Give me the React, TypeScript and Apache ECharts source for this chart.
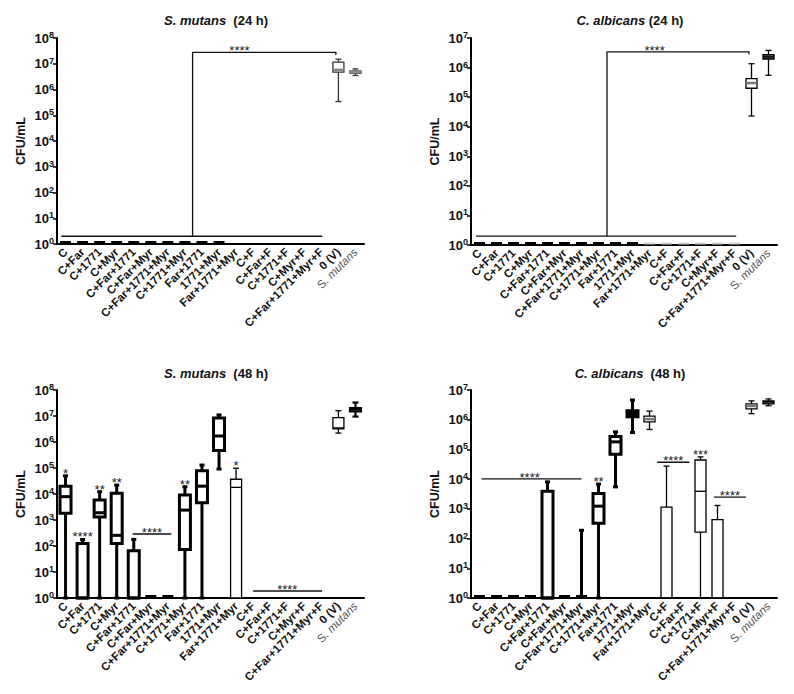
import React, { useEffect, useRef } from 'react';
import * as echarts from 'echarts';

const FONT = '"Liberation Sans", Arial, sans-serif';

const categories = [
  'C', 'C+Far', 'C+1771', 'C+Myr', 'C+Far+1771', 'C+Far+Myr', 'C+Far+1771+Myr', 'C+1771+Myr',
  'Far+1771', '1771+Myr', 'Far+1771+Myr', 'C+F', 'C+Far+F', 'C+1771+F', 'C+Myr+F',
  'C+Far+1771+Myr+F', '0 (V)', 'S. mutans',
];

type Box = number[] | null; // [min, Q1, median, Q3, max] CFU/mL
const Z: Box = [1, 1, 1, 1, 1];

const sMutans24: Box[] = [
  Z, Z, Z, Z, Z, Z, Z, Z, Z, Z, null, null, null, null, null, null,
  [3.4e5, 4.7e6, 5.8e6, 1.15e7, 1.5e7],
  [3.5e6, 4.3e6, 5.0e6, 5.25e6, 6.3e6],
];
const cAlbicans24: Box[] = [
  Z, Z, Z, Z, Z, Z, Z, Z, Z, Z, Z, Z, Z, Z, Z, Z,
  [2.3e4, 2.0e5, 3.0e5, 4.2e5, 1.35e6],
  [5.5e5, 1.95e6, 2.3e6, 2.75e6, 3.8e6],
];
const sMutans48: Box[] = [
  [1, 1.8e3, 7.9e3, 2.0e4, 5.0e4],
  [1, 1, 1, 126, 178],
  [1, 1.3e3, 1.9e3, 5.9e3, 1.23e4],
  [1, 126, 257, 1.07e4, 2.2e4],
  [1, 1, 1, 65, 180],
  Z, Z,
  [1, 74, 2.4e3, 9.1e3, 1.9e4],
  [1, 4.6e3, 2.0e4, 7.9e4, 1.3e5],
  [9.1e4, 4.7e5, 1.7e6, 8.3e6, 1.1e7],
  [1, 1, 1.8e4, 3.7e4, 9.8e4],
  null, null, null, null, null,
  [2.2e6, 3.2e6, 3.5e6, 8.7e6, 1.6e7],
  [9.5e6, 1.5e7, 1.8e7, 2.0e7, 3.3e7],
];
const cAlbicans48: Box[] = [
  Z, Z, Z, Z,
  [1, 1, 1, 3.9e3, 8.1e3],
  Z,
  [1, 1, 1, 1, 190],
  [1, 330, 1.23e3, 3.3e3, 6.8e3],
  [5.5e3, 6.9e4, 1.8e5, 2.7e5, 3.9e5],
  [3.7e5, 1.26e6, 1.8e6, 2.0e6, 4.6e6],
  [4.7e5, 8.5e5, 1.05e6, 1.32e6, 1.95e6],
  [1, 1, 1, 1.15e3, 2.75e4],
  null,
  [1, 166, 3.9e3, 4.4e4, 5.6e4],
  [1, 1, 1, 436, 1.3e3],
  null,
  [1.6e6, 2.3e6, 2.9e6, 3.4e6, 4.3e6],
  [2.95e6, 3.4e6, 4.0e6, 4.3e6, 5.0e6],
];

const stars24S = ['', '', '', '', '', '', '', '', '', '', '', '', '', '', '', '', '', ''];
const stars24C = stars24S;
const stars48S = ['*', '****', '**', '**', '', '', '', '**', '', '', '*', '', '', '', '', '', '', ''];
const stars48C = ['', '', '', '', '', '', '', '**', '', '', '', '', '', '***', '', '', '', ''];

// significance brackets: polylines in [category position, CFU/mL]
type Ann = { lines: number[][][]; text: string; at: number[] };
const sig24S: Ann[] = [
  { lines: [[[-0.25, 2], [15.05, 2]], [[7.45, 2], [7.45, 2.75e7], [15.85, 2.75e7], [15.85, 2.2e7]]], text: '****', at: [10.2, 2.75e7] },
];
const sig24C: Ann[] = [
  { lines: [[[-0.2, 2], [15.1, 2]], [[7.5, 2], [7.5, 3.4e6], [15.85, 3.4e6], [15.85, 2.75e6]]], text: '****', at: [10.3, 3.4e6] },
];
const sig48S: Ann[] = [
  { lines: [[[3.94, 290], [6.2, 290]]], text: '****', at: [5.07, 290] },
  { lines: [[[11.0, 1.86], [15.04, 1.86]]], text: '****', at: [13.0, 1.86] },
];
const sig48C: Ann[] = [
  { lines: [[[0.12, 1.02e4], [6.0, 1.02e4]]], text: '****', at: [2.95, 1.02e4] },
  { lines: [[[10.45, 3.7e4], [12.35, 3.7e4]]], text: '****', at: [11.4, 3.7e4] },
  { lines: [[[13.78, 2.5e3], [15.68, 2.5e3]]], text: '****', at: [14.73, 2.5e3] },
];

const STYLES: Record<string, any> = {
  thick: { stroke: '#000', lw: 3, fill: '#fff', median: '#000', mlw: 3, bw: 11, cap: 5, dash: 3 },
  thin: { stroke: '#000', lw: 1.3, fill: '#fff', median: '#000', mlw: 1.3, bw: 11, cap: 6, dash: 2 },
  thinGreyMed: { stroke: '#000', lw: 1.3, fill: '#fff', median: '#777', mlw: 2.5, bw: 11, cap: 6, dash: 2 },
  grey: { stroke: '#333', lw: 1.3, fill: '#fff', median: '#888', mlw: 2.5, bw: 11, cap: 6, dash: 2 },
  mid: { stroke: '#000', lw: 2.2, fill: '#fff', median: '#000', mlw: 2.2, bw: 11, cap: 6, dash: 2 },
  thickFill: { stroke: '#000', lw: 3, fill: '#000', median: '#000', mlw: 3, bw: 11, cap: 5, dash: 3 },
  thinFill: { stroke: '#000', lw: 1.3, fill: '#555', median: '#000', mlw: 1.3, bw: 11, cap: 6, dash: 2 },
  faint: { stroke: '#d0d0d0', lw: 1.3, fill: '#fff', median: '#d0d0d0', mlw: 1.3, bw: 11, cap: 6, dash: 2 },
};

const T = 'thick';
const style24S = [T, T, T, T, T, T, T, T, T, T, '', '', '', '', '', '', 'grey', 'grey'];
const style24C = [T, T, T, T, T, T, T, T, T, T, 'faint', 'faint', 'faint', 'faint', 'faint', 'faint', 'thinGreyMed', 'thinFill'];
const style48S = [T, T, T, T, T, T, T, T, T, T, 'thin', 'thin', 'thin', 'thin', 'thin', 'thin', 'thin', 'mid'];
const style48C = [T, T, T, T, T, T, T, T, T, 'thickFill', 'thinGreyMed', 'thin', 'thin', 'thin', 'thin', 'thin', 'thinGreyMed', 'thinFill'];

const renderBox = (styles: string[], stars: string[]) => (params: any, api: any) => {
  const i = api.value(0);
  const mn = api.value(1), q1 = api.value(2), md = api.value(3), q3 = api.value(4), mx = api.value(5);
  const st = STYLES[styles[i]];
  const x = api.coord([i, mn])[0];
  const Y = (v: number) => api.coord([i, v])[1];
  const ls = { stroke: st.stroke, lineWidth: st.lw };
  const hw = st.bw / 2, cw = st.cap / 2;
  const children: any[] = [];
  if (mx > q3) {
    children.push({ type: 'line', shape: { x1: x, y1: Y(q3), x2: x, y2: Y(mx) }, style: ls });
    children.push({ type: 'line', shape: { x1: x - cw, y1: Y(mx), x2: x + cw, y2: Y(mx) }, style: ls });
  }
  if (mn < q1) {
    children.push({ type: 'line', shape: { x1: x, y1: Y(q1), x2: x, y2: Y(mn) }, style: ls });
    children.push({ type: 'line', shape: { x1: x - cw, y1: Y(mn), x2: x + cw, y2: Y(mn) }, style: ls });
  }
  if (q3 > q1) {
    children.push({ type: 'rect', shape: { x: x - hw, y: Y(q3), width: st.bw, height: Y(q1) - Y(q3) }, style: { fill: st.fill, stroke: st.stroke, lineWidth: st.lw } });
    children.push({ type: 'line', shape: { x1: x - hw, y1: Y(md), x2: x + hw, y2: Y(md) }, style: { stroke: st.median, lineWidth: st.mlw } });
  } else {
    children.push({ type: 'line', shape: { x1: x - hw, y1: Y(q1) - 1.5, x2: x + hw, y2: Y(q1) - 1.5 }, style: { stroke: st.stroke, lineWidth: st.dash } });
  }
  if (stars[i]) {
    children.push({ type: 'text', x, y: Y(mx) + 4, style: { text: stars[i], fill: '#222', font: `13px ${FONT}`, textAlign: 'center', textVerticalAlign: 'bottom' } });
  }
  return { type: 'group', children };
};

const renderAnn = (anns: Ann[]) => (params: any, api: any) => {
  const a = anns[params.dataIndex];
  const bw = api.size([1, 1], [0, 10])[0];
  const P = (p: number[]) => { const c = api.coord([0, p[1]]); return [c[0] + p[0] * bw, c[1]]; };
  const children: any[] = a.lines.map((l) => ({ type: 'polyline', shape: { points: l.map(P) }, style: { stroke: '#111', lineWidth: 1.3, fill: null } }));
  const t = P(a.at);
  children.push({ type: 'text', x: t[0], y: t[1] + 5, style: { text: a.text, fill: '#222', font: `13px ${FONT}`, textAlign: 'center', textVerticalAlign: 'bottom' } });
  return { type: 'group', children };
};

const panels = [
  { title: '{i|S. mutans}{n|  (24 h)}', tx: 211, ty: 9, grid: { left: 57, top: 38, width: 307, height: 206 }, max: 1e8, boxes: sMutans24, styles: style24S, stars: stars24S, anns: sig24S },
  { title: '{i|C. albicans}{n| (24 h)}', tx: 625, ty: 9, grid: { left: 471, top: 38, width: 306, height: 207 }, max: 1e7, boxes: cAlbicans24, styles: style24C, stars: stars24C, anns: sig24C },
  { title: '{i|S. mutans}{n|  (48 h)}', tx: 211, ty: 362, grid: { left: 57, top: 390, width: 307, height: 208 }, max: 1e8, boxes: sMutans48, styles: style48S, stars: stars48S, anns: sig48S },
  { title: '{i|C. albicans}{n|  (48 h)}', tx: 625, ty: 362, grid: { left: 471, top: 390, width: 306, height: 208 }, max: 1e7, boxes: cAlbicans48, styles: style48C, stars: stars48C, anns: sig48C },
];

export default function App() {
  const ref = useRef<HTMLDivElement>(null);
  useEffect(() => {
    document.body.style.margin = '0';
    const chart = echarts.init(ref.current!, null, { renderer: 'svg' });
    const option: any = {
      animation: false,
      backgroundColor: '#fff',
      textStyle: { fontFamily: FONT },
      title: panels.map((p) => ({
        text: p.title, left: p.tx, top: p.ty, textAlign: 'center',
        textStyle: {
          rich: {
            i: { fontFamily: FONT, fontSize: 13, fontWeight: 'bold', fontStyle: 'italic', color: '#111' },
            n: { fontFamily: FONT, fontSize: 13, fontWeight: 'bold', color: '#111' },
          },
        },
      })),
      grid: panels.map((p) => ({ ...p.grid })),
      xAxis: panels.map((p, k) => ({
        type: 'category', gridIndex: k, data: categories,
        axisLine: { lineStyle: { color: '#000', width: 2 } },
        axisTick: { alignWithLabel: true, length: 3, lineStyle: { color: '#000', width: 1.5 } },
        axisLabel: {
          rotate: 45, interval: 0, margin: 6, color: '#111', fontFamily: FONT, fontSize: 11.5, fontWeight: 'bold',
          formatter: (v: string) => (v === 'S. mutans' ? '{g|S. }{gi|mutans}' : v),
          rich: {
            g: { color: '#555', fontFamily: FONT, fontSize: 11.5, fontWeight: 'normal' },
            gi: { color: '#555', fontFamily: FONT, fontSize: 11.5, fontWeight: 'normal', fontStyle: 'italic' },
          },
        },
        splitLine: { show: false },
      })),
      yAxis: panels.map((p, k) => ({
        type: 'log', logBase: 10, gridIndex: k, min: 1, max: p.max, splitNumber: Math.round(Math.log10(p.max)),
        name: 'CFU/mL', nameLocation: 'middle', nameGap: 30,
        nameTextStyle: { fontFamily: FONT, fontSize: 12.5, fontWeight: 'bold', color: '#111' },
        axisLine: { show: true, lineStyle: { color: '#000', width: 2 } },
        axisTick: { show: true, length: 4, lineStyle: { color: '#000', width: 1.5 } },
        minorTick: { show: false },
        splitLine: { show: false },
        axisLabel: {
          margin: 3,
          formatter: (v: number) => `{b|10}{s|${Math.round(Math.log10(v))}}`,
          rich: {
            b: { fontFamily: FONT, fontSize: 13, fontWeight: 'bold', color: '#111', lineHeight: 15 },
            s: { fontFamily: FONT, fontSize: 9, fontWeight: 'bold', color: '#111', verticalAlign: 'top', lineHeight: 9 },
          },
        },
      })),
      series: panels.flatMap((p, k) => [
        {
          type: 'custom', xAxisIndex: k, yAxisIndex: k,
          renderItem: renderBox(p.styles, p.stars),
          encode: { x: 0, y: [1, 2, 3, 4, 5] },
          data: p.boxes.map((b, i) => (b ? [i, ...b] : null)).filter((d) => d !== null),
        },
        {
          type: 'custom', xAxisIndex: k, yAxisIndex: k, z: 3,
          renderItem: renderAnn(p.anns),
          encode: { x: 0, y: 1 },
          data: p.anns.map(() => [0, 10]),
        },
      ]),
    };
    chart.setOption(option);
    return () => chart.dispose();
  }, []);
  return <div ref={ref} style={{ width: 794, height: 694 }} />;
}
